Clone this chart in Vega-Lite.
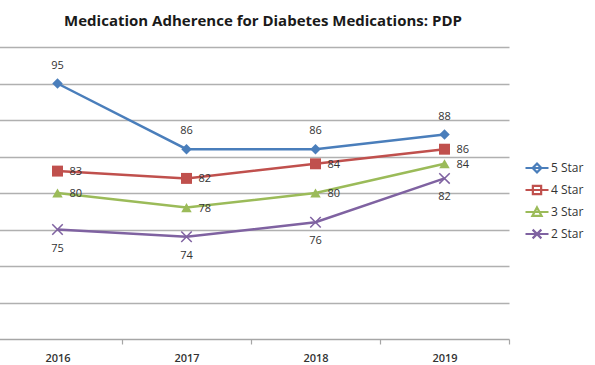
{
  "$schema": "https://vega.github.io/schema/vega-lite/v6.json",
  "autosize": "none",
  "width": 516,
  "height": 292,
  "padding": {"left": -7, "top": 47, "right": 86, "bottom": 26},
  "background": "white",
  "title": {
    "text": "Medication Adherence for Diabetes Medications: PDP",
    "font": "Open Sans",
    "fontSize": 15,
    "fontWeight": "bold",
    "color": "#1a1a1a",
    "anchor": "middle",
    "frame": "group",
    "dx": 12,
    "offset": 18
  },
  "config": {
    "view": {"stroke": null},
    "font": "Open Sans"
  },
  "data": {
    "values": [
      {"year": "2016", "series": "5 Star", "value": 95},
      {"year": "2017", "series": "5 Star", "value": 86},
      {"year": "2018", "series": "5 Star", "value": 86},
      {"year": "2019", "series": "5 Star", "value": 88},
      {"year": "2016", "series": "4 Star", "value": 83},
      {"year": "2017", "series": "4 Star", "value": 82},
      {"year": "2018", "series": "4 Star", "value": 84},
      {"year": "2019", "series": "4 Star", "value": 86},
      {"year": "2016", "series": "3 Star", "value": 80},
      {"year": "2017", "series": "3 Star", "value": 78},
      {"year": "2018", "series": "3 Star", "value": 80},
      {"year": "2019", "series": "3 Star", "value": 84},
      {"year": "2016", "series": "2 Star", "value": 75},
      {"year": "2017", "series": "2 Star", "value": 74},
      {"year": "2018", "series": "2 Star", "value": 76},
      {"year": "2019", "series": "2 Star", "value": 82}
    ]
  },
  "encoding": {
    "x": {
      "field": "year",
      "type": "ordinal",
      "scale": {"type": "band", "paddingInner": 0, "paddingOuter": 0},
      "axis": {
        "title": null,
        "labelAngle": 0,
        "tickBand": "extent",
        "domainColor": "#a6a6a6",
        "domainWidth": 1.5,
        "tickColor": "#a6a6a6",
        "tickSize": 5,
        "tickWidth": 1.2,
        "labelFont": "Open Sans",
        "labelFontSize": 11,
        "labelFontWeight": 600,
        "labelColor": "#333333",
        "labelPadding": 8
      }
    },
    "y": {
      "field": "value",
      "type": "quantitative",
      "scale": {"domain": [60, 100], "nice": false, "zero": false},
      "axis": {
        "title": null,
        "labels": false,
        "ticks": false,
        "domain": false,
        "values": [65, 70, 75, 80, 85, 90, 95, 100],
        "grid": true,
        "gridColor": "#b0b0b0",
        "gridWidth": 1.5
      }
    }
  },
  "layer": [
    {
      "mark": {"type": "point", "filled": false, "strokeWidth": 1, "size": 1, "opacity": 1},
      "encoding": {
        "stroke": {
          "field": "series",
          "type": "nominal",
          "scale": {
            "domain": ["5 Star", "4 Star", "3 Star", "2 Star"],
            "range": ["#4a7ebb", "#c0504d", "#9bbb59", "#7f62a1"]
          },
          "legend": {
            "title": " ",
            "titleFontSize": 1,
            "titlePadding": 107,
            "offset": 15,
            "padding": 0,
            "symbolSize": 529,
            "symbolStrokeWidth": 2.2,
            "rowPadding": 0,
            "labelFont": "Open Sans",
            "labelFontSize": 12,
            "labelColor": "#333333",
            "labelOffset": 1,
            "encode": {
              "symbols": {
                "update": {
                  "size": {"value": 529},
                  "strokeWidth": {"value": 2.2},
                  "opacity": {"value": 1},
                  "strokeOpacity": {"value": 1},
                  "fill": {"scale": "stroke", "field": "value"},
                  "fillOpacity": {"value": 1}
                }
              }
            }
          }
        },
        "shape": {
          "field": "series",
          "type": "nominal",
          "scale": {
            "domain": ["5 Star", "4 Star", "3 Star", "2 Star"],
            "range": [
              "M-1,0H1M0,-0.38L0.38,0L0,0.38L-0.38,0Z",
              "M-1,0H1M-0.36,-0.36H0.36V0.36H-0.36Z",
              "M-1,0H1M0,-0.4L0.4,0.34L-0.4,0.34Z",
              "M-1,0H1M-0.38,-0.38L0.38,0.38M-0.38,0.38L0.38,-0.38"
            ]
          },
          "legend": {
            "title": " ",
            "titleFontSize": 1,
            "titlePadding": 107,
            "offset": 15,
            "padding": 0
          }
        }
      }
    },
    {
      "mark": {"type": "line", "strokeWidth": 2.5},
      "encoding": {
        "color": {
          "field": "series",
          "type": "nominal",
          "scale": {
            "domain": ["5 Star", "4 Star", "3 Star", "2 Star"],
            "range": ["#4a7ebb", "#c0504d", "#9bbb59", "#7f62a1"]
          },
          "legend": null
        }
      }
    },
    {
      "transform": [{"filter": "datum.series === '5 Star'"}],
      "mark": {"type": "point", "shape": "diamond", "filled": true, "size": 110, "opacity": 1, "color": "#4a7ebb"}
    },
    {
      "transform": [{"filter": "datum.series === '4 Star'"}],
      "mark": {"type": "point", "shape": "square", "filled": true, "size": 120, "opacity": 1, "color": "#c0504d"}
    },
    {
      "transform": [{"filter": "datum.series === '3 Star'"}],
      "mark": {"type": "point", "shape": "triangle-up", "filled": true, "size": 110, "opacity": 1, "color": "#9bbb59"}
    },
    {
      "transform": [{"filter": "datum.series === '2 Star'"}],
      "mark": {"type": "point", "shape": "M-1,-1L1,1M-1,1L1,-1", "filled": false, "strokeWidth": 1.5, "size": 110, "opacity": 1, "color": "#7f62a1"}
    },
    {
      "transform": [{"filter": "datum.series === '5 Star'"}],
      "mark": {"type": "text", "dy": -18, "fontSize": 11, "font": "Open Sans", "color": "#333333"},
      "encoding": {"text": {"field": "value"}}
    },
    {
      "transform": [{"filter": "datum.series === '4 Star' || datum.series === '3 Star'"}],
      "mark": {"type": "text", "dx": 12, "dy": 1, "align": "left", "fontSize": 11, "font": "Open Sans", "color": "#333333"},
      "encoding": {"text": {"field": "value"}}
    },
    {
      "transform": [{"filter": "datum.series === '2 Star'"}],
      "mark": {"type": "text", "dy": 19, "fontSize": 11, "font": "Open Sans", "color": "#333333"},
      "encoding": {"text": {"field": "value"}}
    }
  ]
}
